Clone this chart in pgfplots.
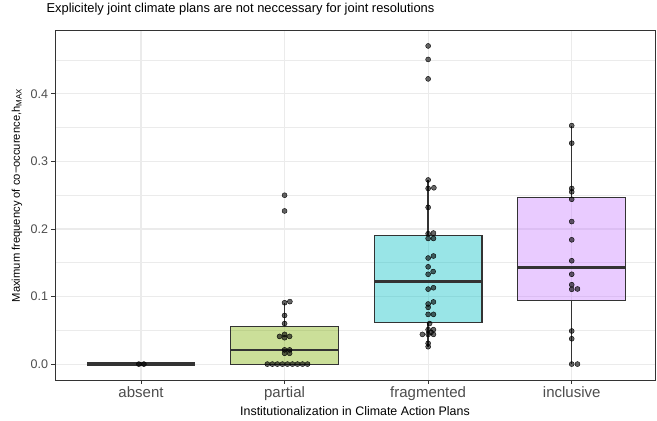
\documentclass[border=0pt]{standalone}
\usepackage{pgfplots}
\pgfplotsset{compat=1.18}
\usepackage{fontspec}
\setmainfont{Liberation Sans}
\definecolor{gridc}{HTML}{EBEBEB}
\definecolor{tickc}{HTML}{4D4D4D}
\definecolor{bordc}{HTML}{333333}
\definecolor{hA}{HTML}{F8766D}
\definecolor{hB}{HTML}{7CAE00}
\definecolor{hC}{HTML}{00BFC4}
\definecolor{hD}{HTML}{C77CFF}
\begin{document}
\begin{tikzpicture}
\useasboundingbox (-55pt,-41pt) rectangle (602pt,380pt);
\begin{axis}[
  at={(0,0)}, anchor=south west,
  scale only axis, width=600pt, height=350pt,
  xmin=0.401, xmax=4.58, ymin=-0.02355, ymax=0.4946,
  xtick={1,2,3,4}, xticklabels={absent,partial,fragmented,inclusive},
  ytick={0,0.1,0.2,0.3,0.4}, yticklabels={0.0,0.1,0.2,0.3,0.4},
  minor ytick={0.05,0.15,0.25,0.35,0.45},
  xmajorgrids, ymajorgrids, yminorgrids,
  major grid style={gridc, line width=1.1pt},
  minor grid style={gridc, line width=0.55pt},
  axis line style={bordc, line width=0.8pt},
  tick style={bordc, line width=0.8pt},
  tick align=outside, major tick length=3.5pt, minor tick length=0pt,
  xtick pos=lower, ytick pos=left,
  x tick label style={font=\fontsize{15}{15}\selectfont, text=tickc},
  y tick label style={font=\fontsize{12.5}{12.5}\selectfont, text=tickc},
  xlabel={Institutionalization in Climate Action Plans},
  xlabel style={font=\fontsize{12.4}{12.4}\selectfont, at={([yshift=-35.7pt]axis description cs:0.5,0)}, anchor=base},
  ylabel={Maximum frequency of co−occurence,h\textsubscript{MAX}},
  ylabel style={font=\fontsize{11.2}{11.2}\selectfont, at={([xshift=-35pt]axis description cs:0,0.527)}, anchor=base},
  title={Explicitely joint climate plans are not neccessary for joint resolutions},
  title style={font=\fontsize{12.9}{12.9}\selectfont, at={([xshift=-12pt,yshift=11pt]axis description cs:0,1)}, anchor=base west},
  bx/.style={draw=bordc, line width=1.1pt, fill opacity=0.4, line join=miter},
  wk/.style={draw=bordc, line width=1.5pt},
  md/.style={draw=bordc, line width=2.6pt},
]
% boxes: lower quartile, upper quartile
\addplot[bx, fill=hA] coordinates {(0.625,0) (1.375,0) (1.375,0) (0.625,0)} -- cycle;
\addplot[draw=bordc, line width=3.4pt] coordinates {(0.625,0) (1.375,0)};

\addplot[bx, fill=hB] coordinates {(1.625,0) (2.375,0) (2.375,0.0563) (1.625,0.0563)} -- cycle;
\addplot[wk] coordinates {(2,0.0563) (2,0.0908)};
\addplot[md] coordinates {(1.625,0.0207) (2.375,0.0207)};

\addplot[bx, fill=hC] coordinates {(2.625,0.061) (3.375,0.061) (3.375,0.191) (2.625,0.191)} -- cycle;
\addplot[wk] coordinates {(3,0.191) (3,0.2726)};
\addplot[wk] coordinates {(3,0.061) (3,0.0257)};
\addplot[md] coordinates {(2.625,0.122) (3.375,0.122)};

\addplot[bx, fill=hD] coordinates {(3.625,0.094) (4.375,0.094) (4.375,0.2464) (3.625,0.2464)} -- cycle;
\addplot[wk] coordinates {(4,0.2464) (4,0.353)};
\addplot[wk] coordinates {(4,0.094) (4,0)};
\addplot[md] coordinates {(3.625,0.143) (4.375,0.143)};

\pgfplotsset{pts/.style={only marks, mark=*, mark size=2.5pt, mark options={draw=none, fill=black, fill opacity=0.6}}}
% absent
\addplot[pts] coordinates {(0.985,0) (1.02,0)};
% partial
\addplot[pts] coordinates {(2,0.25) (2,0.2267) (2,0.0908) (2.037,0.0925) (2,0.072) (2,0.060)
 (1.965,0.041) (2,0.044) (2,0.039) (2.035,0.041) (2,0.021) (2.035,0.021) (2,0.016) (2.035,0.016)
 (1.88,0) (1.915,0) (1.95,0) (1.985,0) (2.02,0) (2.055,0) (2.09,0) (2.125,0) (2.16,0)};
% fragmented
\addplot[pts] coordinates {(3,0.471) (3,0.451) (3,0.4222) (3,0.2726) (3,0.26) (3.04,0.261) (3,0.232)
 (3,0.193) (3.037,0.194) (3,0.186) (3.037,0.186) (3,0.157) (3.037,0.160) (3,0.144)
 (3,0.133) (3.035,0.137) (3,0.111) (3.037,0.113) (3.037,0.092) (3,0.089) (3,0.084)
 (3,0.0736) (3.037,0.0736) (3.01,0.060) (3,0.051) (3.037,0.051) (3.02,0.047)
 (2.96,0.044) (3,0.044) (3.037,0.044) (3,0.0307) (3,0.0257)};
% inclusive
\addplot[pts] coordinates {(4,0.353) (4,0.327) (4,0.26) (4,0.255) (4,0.244) (4,0.211) (4,0.184)
 (4,0.153) (4,0.133) (4,0.1175) (4,0.1107) (4.04,0.1112) (4,0.049) (4,0.0375) (4,0) (4.04,0)};
\end{axis}
\end{tikzpicture}
\end{document}
